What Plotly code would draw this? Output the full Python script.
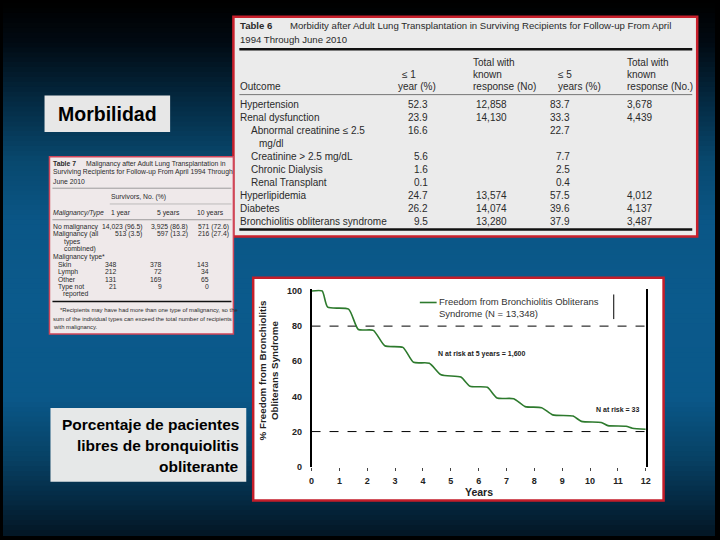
import plotly.graph_objects as go

W, H = 720, 540
FONT = "Liberation Sans, Arial, sans-serif"

# ---------------- chart data (Kaplan-Meier, freedom from BOS) ----------------
bos_years = [0, 0.38, 0.58, 1.33, 1.68, 2.22, 2.63, 3.28, 3.66, 4.23, 4.65, 5.36, 5.69,
             6.31, 6.66, 7.26, 7.67, 8.26, 8.66, 9.39, 9.69, 10.40, 10.64, 11.29, 11.52, 12.0]
bos_pct = [100, 100, 90.8, 89.7, 78.1, 77.6, 68.8, 67.9, 59.4, 58.9, 52.3, 51.0, 45.8,
           45.2, 39.1, 38.7, 34.2, 33.6, 29.5, 28.8, 25.8, 25.2, 23.4, 23.0, 21.9, 21.3]
x_ticks = list(range(0, 13))
y_ticks = [0, 20, 40, 60, 80, 100]
ref_lines = [20, 80]
legend_label = "Freedom from Bronchiolitis Obliterans<br>Syndrome (N = 13,348)"
risk_5y_label = "N at risk at 5 years = 1,600"
risk_end_label = "N at risk = 33"

# ---------------- Table 6 data ----------------
t6_title1 = "Morbidity after Adult Lung Transplantation in Surviving Recipients for Follow-up From April"
t6_title2 = "1994 Through June 2010"
t6_outcome = ["Hypertension", "Renal dysfunction", "Abnormal creatinine \u2264 2.5", "mg/dl",
              "Creatinine > 2.5 mg/dL", "Chronic Dialysis", "Renal Transplant",
              "Hyperlipidemia", "Diabetes", "Bronchiolitis obliterans syndrome"]
t6_1yr_pct = ["52.3", "23.9", "16.6", "", "5.6", "1.6", "0.1", "24.7", "26.2", "9.5"]
t6_1yr_n = ["12,858", "14,130", "", "", "", "", "", "13,574", "14,074", "13,280"]
t6_5yr_pct = ["83.7", "33.3", "22.7", "", "7.7", "2.5", "0.4", "57.5", "39.6", "37.9"]
t6_5yr_n = ["3,678", "4,439", "", "", "", "", "", "4,012", "4,137", "3,487"]

# ---------------- Table 7 data ----------------
t7_title = ["Malignancy after Adult Lung Transplantation in",
            "Surviving Recipients for Follow-up From April 1994 Through",
            "June 2010"]
t7_type = ["No malignancy", "Malignancy (all", "types", "combined)", "Malignancy type*",
           "Skin", "Lymph", "Other", "Type not", "reported"]
t7_1yr = ["14,023 (96.5)", "513 (3.5)", "", "", "", "348", "212", "131", "21", ""]
t7_5yr = ["3,925 (86.8)", "597 (13.2)", "", "", "", "378", "72", "169", "9", ""]
t7_10yr = ["571 (72.6)", "216 (27.4)", "", "", "", "143", "34", "65", "0", ""]
t7_foot = ["*Recipients may have had more than one type of malignancy, so the",
           "sum of the individual types can exceed the total number of recipients",
           "with malignancy."]

shapes = []
annotations = []


def rect(x0, y0, x1, y1, fill, lc=None, lw=0):
    shapes.append(dict(type="rect", xref="paper", yref="paper", layer="below",
                       x0=x0 / W, x1=x1 / W, y0=1 - y1 / H, y1=1 - y0 / H,
                       fillcolor=fill, line=dict(color=lc or fill, width=lw)))


def hrule(x0, x1, y, color, lw):
    shapes.append(dict(type="line", xref="paper", yref="paper", layer="below",
                       x0=x0 / W, x1=x1 / W, y0=1 - y / H, y1=1 - y / H,
                       line=dict(color=color, width=lw)))


def txt(x, y, s, size, anchor="left", color="#2a2a2a", bold=False, italic=False):
    annotations.append(dict(x=x / W, y=1 - y / H, xref="paper", yref="paper", text=s,
                            showarrow=False, xanchor=anchor, yanchor="middle",
                            align=anchor if anchor != "center" else "center", borderpad=0,
                            font=dict(size=size, color=color, family=FONT,
                                      weight="bold" if bold else "normal",
                                      style="italic" if italic else "normal")))


# ---------------- background gradient ----------------
stops = [(0, (0, 0, 0)), (40, (1, 10, 18)), (100, (4, 42, 66)), (160, (8, 72, 110)),
         (220, (10, 86, 134)), (300, (11, 90, 140)), (400, (10, 88, 137)),
         (460, (7, 66, 102)), (500, (5, 44, 70)), (540, (3, 22, 36))]


def grad(y):
    for (ya, ca), (yb, cb) in zip(stops[:-1], stops[1:]):
        if ya <= y <= yb:
            t = (y - ya) / (yb - ya)
            return "rgb(%d,%d,%d)" % tuple(round(a + (b - a) * t) for a, b in zip(ca, cb))
    return "rgb(3,22,36)"


for yy in range(0, 540, 5):
    rect(0, yy, 720, yy + 6, grad(yy + 2.5))

# ---------------- Table 6 ----------------
F6 = 10
rect(233, 14, 702, 237, "#ebebeb", "#c8202c", 2.5)
txt(239, 23, "Table 6", 9.6, bold=True)
txt(289, 23, t6_title1, 9.6)
txt(239, 37, t6_title2, 9.6)
hrule(239, 697, 47, "#111111", 2.5)
txt(474, 60, "Total with", F6)
txt(630, 60, "Total with", F6)
txt(402, 72.5, "\u2264 1", F6)
txt(474, 72.5, "known", F6)
txt(560, 72.5, "\u2264 5", F6)
txt(630, 72.5, "known", F6)
txt(239, 85, "Outcome", F6)
txt(398, 85, "year (%)", F6)
txt(474, 85, "response (No)", F6)
txt(560, 85, "years (%)", F6)
txt(630, 85, "response (No.)", F6)
hrule(239, 697, 93, "#777777", 1)
indent6 = {2: 250, 3: 258, 4: 250, 5: 250, 6: 250}
for i, lab in enumerate(t6_outcome):
    y = 103 + i * 13.2
    txt(indent6.get(i, 239), y, lab, F6)
    if t6_1yr_pct[i]:
        txt(431, y, t6_1yr_pct[i], F6, anchor="right")
    if t6_1yr_n[i]:
        txt(477, y, t6_1yr_n[i], F6)
    if t6_5yr_pct[i]:
        txt(574, y, t6_5yr_pct[i], F6, anchor="right")
    if t6_5yr_n[i]:
        txt(630, y, t6_5yr_n[i], F6)
hrule(239, 697, 230, "#111111", 2.5)

# ---------------- Table 7 ----------------
F7 = 6.8
rect(47, 156, 233, 336, "#efe9ea", "#d0465a", 1.5)
txt(50, 163, "Table 7", F7, bold=True)
txt(83, 163, t7_title[0], F7)
txt(50, 172, t7_title[1], F7)
txt(50, 181, t7_title[2], F7)
hrule(50, 231, 188, "#888888", 0.8)
txt(108, 197, "Survivors, No. (%)", F7)
hrule(108, 231, 204, "#999999", 0.6)
txt(50, 213, "Malignancy/Type", F7, italic=True)
txt(108, 213, "1 year", F7)
txt(155, 213, "5 years", F7)
txt(195, 213, "10 years", F7)
hrule(50, 231, 220, "#888888", 0.8)
indent7 = {2: 61, 3: 61, 5: 55, 6: 55, 7: 55, 8: 55, 9: 60}
right7 = {0: (142, 188, 230), 1: (142, 188, 230)}
for i, lab in enumerate(t7_type):
    y = 227 + i * 7.6
    txt(indent7.get(i, 50), y, lab, F7)
    xs = right7.get(i, (116, 162, 209))
    for xr, v in zip(xs, (t7_1yr[i], t7_5yr[i], t7_10yr[i])):
        if v:
            txt(xr, y, v, F7, anchor="right")
hrule(50, 231, 303, "#111111", 1.6)
txt(57, 312, t7_foot[0], 5.9)
txt(50, 321, t7_foot[1], 5.9)
txt(50, 329, t7_foot[2], 5.9)

# ---------------- labels ----------------
rect(42, 94, 169, 131, "#e7e7e7")
txt(105.5, 112.5, "Morbilidad", 19.5, anchor="center", color="#000000", bold=True)
rect(48, 411, 246, 486, "#e6e8e8")
txt(240, 428, "Porcentaje de pacientes", 15.5, anchor="right", color="#000000", bold=True)
txt(240, 449, "libres de bronquiolitis", 15.5, anchor="right", color="#000000", bold=True)
txt(240, 470, "obliterante", 15.5, anchor="right", color="#000000", bold=True)

# ---------------- chart box ----------------
rect(253, 279, 668, 505, "#ffffff", "#c41e2a", 2.5)

# chart annotations
txt(269, 373, "% Freedom from Bronchiolitis<br>Obliterans Syndrome", 9.8,
    anchor="center", color="#222222", bold=True)
annotations[-1]["textangle"] = -90
txt(481, 496, "Years", 10.5, anchor="center", color="#222222", bold=True)
txt(440, 309.5, legend_label, 9.5, color="#333333")
hrule(421.5, 438.5, 304, "#2d7a2d", 1.6)

# data-referenced reference lines and legend separator
for v in ref_lines:
    shapes.append(dict(type="line", xref="x", yref="y", layer="below", x0=0, x1=12, y0=v, y1=v,
                       line=dict(color="#000000", width=1, dash="dash")))
shapes.append(dict(type="line", xref="x", yref="y", x0=10.85, x1=10.85, y0=84, y1=98,
                   line=dict(color="#000000", width=1)))
annotations.append(dict(x=6.1, y=64.1, xref="x", yref="y", text=risk_5y_label, showarrow=False,
                        font=dict(size=7, color="#222222", family=FONT, weight="bold")))
annotations.append(dict(x=11.0, y=32.3, xref="x", yref="y", text=risk_end_label, showarrow=False,
                        font=dict(size=7, color="#222222", family=FONT, weight="bold")))

fig = go.Figure()
fig.add_trace(go.Scatter(x=bos_years, y=bos_pct, mode="lines", showlegend=False,
                         line=dict(color="#2d7a2d", width=1.6, shape="spline", smoothing=0.6)))

y_top = 1 - (292.3 - 1.784) / H
y_bot = 1 - 470.7 / H
fig.update_layout(
    width=W, height=H, margin=dict(l=0, r=0, t=0, b=0),
    paper_bgcolor="#000000", plot_bgcolor="rgba(0,0,0,0)",
    shapes=shapes, annotations=annotations, showlegend=False,
    xaxis=dict(domain=[312 / W, 650 / W], range=[0, 12], tickvals=x_ticks,
               ticks="outside", ticklen=3, tickcolor="#444444", showline=False,
               showgrid=False, zeroline=False, ticklabelstandoff=2,
               tickfont=dict(size=9, color="#222222", family=FONT, weight="bold")),
    yaxis=dict(domain=[y_bot, y_top], range=[0, 101], tickvals=y_ticks, ticks="",
               showline=True, mirror=True, linecolor="#000000", linewidth=1.5,
               showgrid=False, zeroline=False, ticklabelstandoff=6,
               tickfont=dict(size=9, color="#222222", family=FONT, weight="bold")),
)

fig.write_html("out.html", config={"displayModeBar": False},
               post_script="document.body.style.margin='0';document.body.style.padding='0';"
                           "document.documentElement.style.overflow='hidden';")
